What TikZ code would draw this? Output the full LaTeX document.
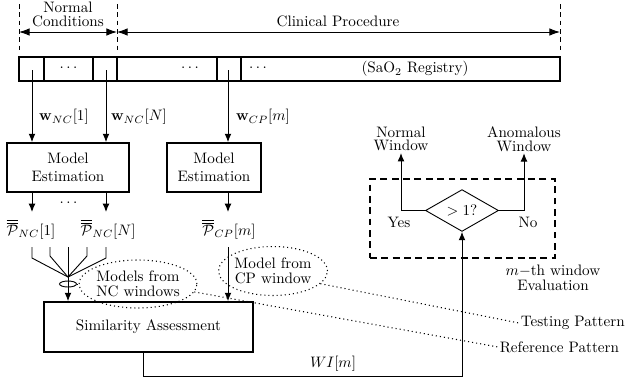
\documentclass[tikz,border=0pt]{standalone}
\usetikzlibrary{arrows.meta,shapes.geometric,calc}
\newcommand{\pxu}{0.66pt}
\begin{document}
\begin{tikzpicture}[x=\pxu,y=-\pxu,
  >={Latex[length=5.5pt,width=4.5pt]},
  conn/.style={line width=0.6pt},
  dimarrow/.style={line width=0.6pt,{Latex[length=7pt,width=5pt]}-{Latex[length=7pt,width=5pt]}},
  guide/.style={line width=0.6pt,dash pattern=on 3pt off 2.5pt},
  bigbox/.style={draw,line width=1.2pt,inner sep=0pt,align=center},
  lbl/.style={inner sep=2pt,align=center},
  cloud/.style={draw,ellipse,dotted,line width=0.7pt,inner sep=0pt,align=center},
  pointer/.style={dotted,line width=0.7pt},
]
\useasboundingbox (0,0) rectangle (625,383);

% top dimension guides
\coordinate (gL) at (19,4);
\coordinate (gM) at (117,4);
\coordinate (gR) at (560,4);
\draw[guide] (gL) -- ++(0,46);
\draw[guide] (gM) -- ++(0,46);
\draw[guide] (gR) -- ++(0,46);
\coordinate (aL) at (19,32);
\coordinate (aM) at (117,32);
\coordinate (aR) at (560,32);
\draw[dimarrow] (aL) -- (aM);
\draw[dimarrow] (aM) -- (aR);
\node[lbl,inner sep=0pt] (nc) at (68,14.5) {Normal\\[-2.5pt]Conditions};
\node[lbl,inner sep=0pt] (cp) at (338,21) {Clinical Procedure};

% registry bar
\node[draw,line width=0.7pt,minimum width=541*\pxu,minimum height=24*\pxu,inner sep=0pt] (bar) at (289.5,69) {};
\foreach \xx in {44,93,117,217,241}
  \draw[line width=0.7pt] (\xx,57) -- (\xx,81);
\node (d1) at (68.5,68) {$\cdots$};
\node (d2) at (190,68) {$\cdots$};
\node (d3) at (258,68) {$\cdots$};
\node (reg) at (415,69) {(SaO$_2$ Registry)};

\coordinate (c1) at (32,70);
\coordinate (cN) at (106,70);
\coordinate (cm) at (228,70);

% model estimation boxes
\node[bigbox,minimum width=122*\pxu,minimum height=49*\pxu] (me1) at (68,167.5) {Model\\Estimation};
\node[bigbox,minimum width=94*\pxu,minimum height=49*\pxu] (me2) at (214,167.5) {Model\\Estimation};

\draw[conn,->] (c1) -- (c1 |- me1.north);
\draw[conn,->] (cN) -- (cN |- me1.north);
\draw[conn,->] (cm) -- (cm |- me2.north);
\node[lbl] (w1) at (64,117) {$\mathbf{w}_{NC}[1]$};
\node[lbl] (wN) at (139,117) {$\mathbf{w}_{NC}[N]$};
\node[lbl] (wm) at (263,117) {$\mathbf{w}_{CP}[m]$};

% P labels
\node[lbl] (p1) at (31,229) {$\overline{\overline{\mathcal{P}}}_{NC}[1]$};
\node[lbl] (pN) at (108,229) {$\overline{\overline{\mathcal{P}}}_{NC}[N]$};
\node[lbl] (pm) at (229,229) {$\overline{\overline{\mathcal{P}}}_{CP}[m]$};
\coordinate (o1) at (32,212);
\coordinate (oN) at (106,212);
\coordinate (om) at (228,212);
\draw[conn,->] (o1 |- me1.south) -- (o1);
\draw[conn,->] (oN |- me1.south) -- (oN);
\draw[conn,->] (om |- me2.south) -- (om);
\node (d4) at (68.5,203) {$\cdots$};

% similarity box
\node[bigbox,minimum width=209*\pxu,minimum height=50*\pxu] (sim) at (148.5,327) {Similarity Assessment};

% fan of NC models
\coordinate (conv) at (68,277);
\draw[conn] (32,247) -- (32,258) -- (conv);
\draw[conn] (50,247) -- (50,256) -- (conv);
\draw[conn] (68,247) -- (conv);
\draw[conn] (87,247) -- (87,256) -- (conv);
\draw[conn] (106,247) -- (106,258) -- (conv);
\draw[conn,->] (conv) -- (conv |- sim.north);
\node[draw,ellipse,line width=0.6pt,minimum width=17*\pxu,minimum height=6*\pxu,inner sep=0pt] (grp) at (68,284) {};

\node[cloud,minimum width=98*\pxu,minimum height=48*\pxu] (nce) at (138,284) {Models from\\[-2pt]NC windows};
\draw[conn] (grp.east) -- (nce.west |- grp.east);

% CP model
\node[cloud,minimum width=100*\pxu,minimum height=49*\pxu] (cpe) at (273,271) {Model from\\[-2pt]CP window};
\coordinate (cpin) at (228,247);
\draw[conn,->] (cpin) -- (cpin |- sim.north);

% pointers
\node[anchor=west,inner sep=1pt] (tp) at (519,323) {Testing Pattern};
\node[anchor=west,inner sep=1pt] (rp) at (498,347) {Reference Pattern};
\draw[pointer] (cpe.-15) -- (tp.west);
\draw[pointer] (nce.-8) -- (rp.west);

% evaluation block
\node[draw,line width=1.2pt,dash pattern=on 4.5pt off 3pt,minimum width=185*\pxu,minimum height=79*\pxu,inner sep=0pt] (evb) at (462.5,218.5) {};
\node[draw,diamond,line width=0.6pt,minimum width=73*\pxu,minimum height=35*\pxu,inner sep=0pt] (dia) at (462,210.5) {$>1?$};
\node[lbl,inner sep=1pt] (nw) at (401,139) {Normal\\[-3pt]Window};
\node[lbl,inner sep=1pt] (aw) at (524,139) {Anomalous\\[-3pt]Window};
\draw[conn,->] (dia.west) -| (nw.south);
\draw[conn,->] (dia.east) -| (aw.south);
\node (yes) at (399,222) {Yes};
\node (no) at (528,222) {No};
\node[align=center] (mth) at (553,278) {$m-$th window\\[-2pt]Evaluation};

% WI path
\coordinate (wiA) at (143,376);
\coordinate (wiB) at (462,376);
\draw[conn,->] (wiA |- sim.south) -- (wiA) -- (wiB) -- (dia.south);
\node (wi) at (333,364) {$WI[m]$};
\end{tikzpicture}
\end{document}
